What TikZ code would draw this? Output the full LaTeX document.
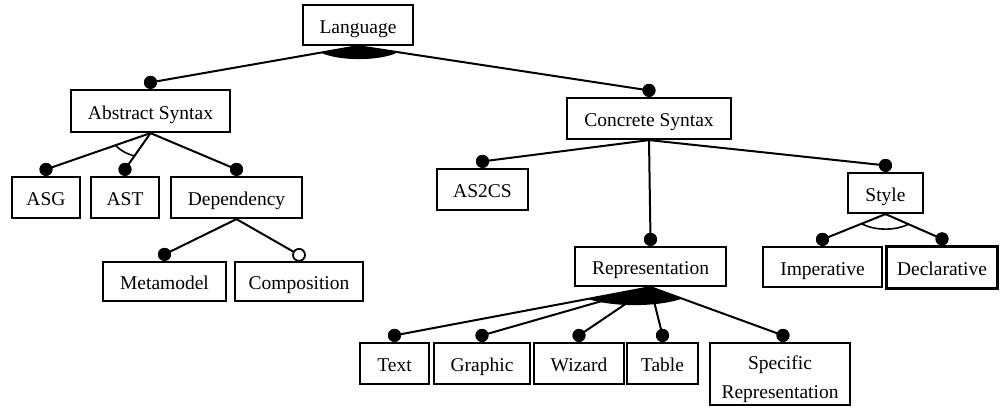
\documentclass[tikz,border=0pt]{standalone}
\usepackage{fontspec}
\setmainfont{Liberation Serif}
\usetikzlibrary{calc}

\tikzset{
  feature/.style={draw, line width=2.2pt, inner sep=0pt, align=center,
    text height=20pt, text depth=4pt,
    font=\fontsize{19.5}{29}\selectfont},
  mand/.style={circle, fill=black, inner sep=0pt, outer sep=0pt,
    minimum size=13pt, anchor=south},
  opt/.style={circle, draw=black, fill=white, line width=1.8pt, inner sep=0pt,
    outer sep=0pt, minimum size=12pt, anchor=south},
  link/.style={line width=2pt},
  grouparc/.style={line width=1.6pt}
}

\begin{document}
\begin{tikzpicture}[x=1pt, y=-1pt]
\useasboundingbox (0,0) rectangle (1000,407);

% feature boxes
\node[feature, minimum width=110pt, minimum height=40pt] (lang) at (358,25) {Language};
\node[feature, minimum width=159pt, minimum height=42pt] (abs) at (150.5,111) {Abstract Syntax};
\node[feature, minimum width=164pt, minimum height=41pt] (con) at (649,118.5) {Concrete Syntax};
\node[feature, minimum width=68pt, minimum height=41pt] (asg) at (46,197.5) {ASG};
\node[feature, minimum width=68pt, minimum height=41pt] (ast) at (125,197.5) {AST};
\node[feature, minimum width=131pt, minimum height=41pt] (dep) at (236.5,197.5) {Dependency};
\node[feature, minimum width=123pt, minimum height=39pt] (meta) at (164.5,281.5) {Metamodel};
\node[feature, minimum width=128pt, minimum height=39pt] (comp) at (299,281.5) {Composition};
\node[feature, minimum width=91pt, minimum height=41pt] (as2cs) at (482.5,189.5) {AS2CS};
\node[feature, minimum width=75pt, minimum height=40pt] (sty) at (885.5,193) {Style};
\node[feature, minimum width=151pt, minimum height=39pt] (rep) at (650.5,266.5) {Representation};
\node[feature, minimum width=119pt, minimum height=40pt] (imp) at (822.5,267) {Imperative};
\node[feature, minimum width=111pt, minimum height=42pt] (dec) at (942,267.5) {Declarative};
\node[feature, minimum width=69pt, minimum height=41pt] (text) at (394.5,363.5) {Text};
\node[feature, minimum width=96pt, minimum height=41pt] (graph) at (482,363.5) {Graphic};
\node[feature, minimum width=90pt, minimum height=41pt] (wiz) at (579,363.5) {Wizard};
\node[feature, minimum width=71pt, minimum height=41pt] (tab) at (662.5,363.5) {Table};
\node[feature, minimum width=140pt, minimum height=62pt,
      text height=52pt, text depth=4pt] (spec) at (780,374) {Specific\\Representation};

% mandatory / optional markers on top of the child features
\node[mand] (mabs) at (abs.north) {};
\node[mand] (mcon) at (con.north) {};
\node[mand] (masg) at (asg.north) {};
\node[mand] (mast) at (ast.north) {};
\node[mand] (mdep) at (dep.north) {};
\node[mand] (mmeta) at (meta.north) {};
\node[opt]  (ocomp) at (comp.north) {};
\node[mand] (mas2cs) at (as2cs.north) {};
\node[mand] (msty) at (sty.north) {};
\node[mand] (mrep) at (rep.north) {};
\node[mand] (mimp) at (imp.north) {};
\node[mand] (mdec) at (dec.north) {};
\node[mand] (mtext) at (text.north) {};
\node[mand] (mgraph) at (graph.north) {};
\node[mand] (mwiz) at (wiz.north) {};
\node[mand] (mtab) at (tab.north) {};
\node[mand] (mspec) at ($(spec.north)+(3,0)$) {};

% or-group fills (filled wedges)
\begin{scope}
  \clip (lang.south) -- (mabs.center) -- (mcon.center) -- cycle;
  \fill ($(lang.south)+(1,0)$) ellipse [x radius=44pt, y radius=13pt];
\end{scope}
\begin{scope}
  \clip (rep.south) -- (mtext.center) -- (mspec.center) -- cycle;
  \fill ($(rep.south)+(-16,0)$) ellipse [x radius=62pt, y radius=18pt];
\end{scope}

% alternative-group arcs
\begin{scope}
  \clip (abs.south) -- (masg.center) -- (mast.center) -- cycle;
  \draw[grouparc] (abs.south) ellipse [x radius=40pt, y radius=25pt];
\end{scope}
\begin{scope}
  \clip (sty.south) -- (mimp.center) -- (mdec.center) -- cycle;
  \draw[grouparc] (sty.south) ellipse [x radius=31pt, y radius=15pt];
\end{scope}

% connectors
\draw[link] (lang.south) -- (mabs.center);
\draw[link] (lang.south) -- (mcon.center);
\draw[link] (abs.south) -- (masg.center);
\draw[link] (abs.south) -- (mast.center);
\draw[link] (abs.south) -- (mdep.center);
\draw[link] (dep.south) -- (mmeta.center);
\draw[link] (dep.south) -- (ocomp);
\draw[link] (con.south) -- (mas2cs.center);
\draw[link] (con.south) -- (mrep.center);
\draw[link] (con.south) -- (msty.center);
\draw[link] (sty.south) -- (mimp.center);
\draw[link] (sty.south) -- (mdec.center);
\draw[link] (rep.south) -- (mtext.center);
\draw[link] (rep.south) -- (mgraph.center);
\draw[link] (rep.south) -- (mwiz.center);
\draw[link] (rep.south) -- (mtab.center);
\draw[link] (rep.south) -- (mspec.center);

% redraw dots over the line ends
\foreach \m in {mabs,mcon,masg,mast,mdep,mmeta,mas2cs,msty,mrep,mimp,mdec,mtext,mgraph,mwiz,mtab,mspec}
  \fill (\m.center) circle [radius=6.5pt];
\end{tikzpicture}
\end{document}
